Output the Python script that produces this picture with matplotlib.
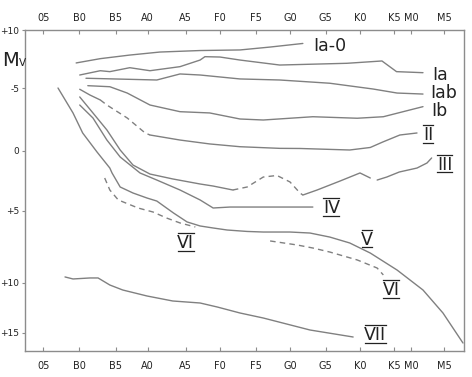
import numpy as np
import matplotlib
matplotlib.use('Agg')
import matplotlib.pyplot as plt
from matplotlib.lines import Line2D

# ---------------- data (spectral subtype number, absolute magnitude Mv) -------------
# spectral scale: O5=5, B0=10, B5=15, A0=20, A5=25, F0=30, F5=35, G0=40, G5=45,
#                 K0=50, K5=55, M0=58, M5=63
spec_ticks = [5, 10, 15, 20, 25, 30, 35, 40, 45, 50, 55, 58, 63]
spec_labels = ['05', 'B0', 'B5', 'A0', 'A5', 'F0', 'F5', 'G0', 'G5', 'K0', 'K5', 'M0', 'M5']
mv_ticks = [-10, -5, 0, 5, 10, 15]
mv_labels = ['+10', '-5', '0', '+5', '+10', '+15']

ia0_x = [9.6, 12.9, 17.2, 21.6, 27.1, 32.8, 37.1, 41.8]
ia0_y = [-7.16, -7.53, -7.84, -8.10, -8.23, -8.28, -8.53, -8.84]

ia_x = [10.1, 12.9, 14.2, 17.2, 20.3, 24.25, 27.1, 27.8, 30.0, 32.8, 38.5, 48.1, 53.2, 55.4, 59.8]
ia_y = [-6.12, -6.49, -6.41, -6.75, -6.49, -6.84, -7.41, -7.70, -7.67, -7.41, -6.98, -7.13, -7.33, -6.41, -6.32]

iab_x = [10.95, 21.2, 24.25, 27.1, 32.8, 38.5, 45.6, 51.9, 55.5, 59.8]
iab_y = [-5.84, -5.69, -6.21, -6.12, -5.78, -5.69, -5.41, -4.92, -4.60, -4.52]

ib_x = [11.2, 14.2, 16.8, 20.3, 24.25, 28.5, 32.8, 36.1, 43.2, 49.6, 53.4, 57.3, 59.8]
ib_y = [-5.2, -5.11, -4.60, -3.65, -3.12, -3.02, -2.54, -2.46, -2.72, -2.60, -2.72, -3.2, -3.52]

ii_a_x = [10.1, 11.5, 12.9]
ii_a_y = [-4.9, -4.44, -4.05]
ii_dash_x = [12.9, 13.8, 16.8, 19.6, 20.3]
ii_dash_y = [-4.05, -3.65, -2.62, -1.43, -1.27]
ii_b_x = [20.3, 24.25, 28.5, 32.8, 38.5, 41.4, 48.5, 51.5, 53.3, 56.0, 58.9]
ii_b_y = [-1.27, -0.87, -0.56, -0.34, -0.21, -0.2, -0.08, -0.28, -0.71, -1.27, -1.43]

iii_a_x = [10.1, 11.9, 13.8, 15.7, 17.7, 20.3, 23.3, 27.1, 29.0, 31.8]
iii_a_y = [-4.29, -3.02, -1.67, -0.08, 1.17, 1.92, 2.33, 2.75, 2.92, 3.25]
iii_dash_x = [31.8, 33.8, 36.1, 38.1, 40.0, 41.4, 41.8]
iii_dash_y = [3.25, 3.0, 2.17, 2.04, 2.58, 3.5, 3.67]
iii_b_x = [41.8, 43.8, 47.1, 50.0, 51.5]
iii_b_y = [3.67, 3.25, 2.5, 1.83, 2.25]
iii_c_x = [52.5, 53.9, 55.9, 58.9, 60.4, 61.1]
iii_c_y = [2.42, 2.17, 1.75, 1.42, 1.0, 0.58]

iv_x = [10.1, 11.9, 13.8, 15.7, 18.8, 21.2, 24.25, 27.1, 29.0, 31.4, 43.2]
iv_y = [-3.65, -2.62, -0.87, 0.5, 1.83, 2.42, 3.25, 4.08, 4.75, 4.67, 4.67]

v_x = [7.06, 9.16, 10.5, 12.45, 14.2, 14.5, 15.7, 17.7, 19.9, 21.2, 22.3, 23.4, 25.2, 27.1,
       29.0, 31.0, 33.8, 36.1, 40.0, 42.8, 45.6, 48.5, 51.5, 55.5, 59.8, 62.8, 65.8]
v_y = [-5.0, -3.02, -1.43, 0.08, 1.42, 1.83, 3.0, 3.5, 3.92, 4.17, 4.67, 5.14, 5.76, 6.04,
       6.18, 6.32, 6.42, 6.46, 6.46, 6.53, 6.81, 7.22, 7.92, 9.1, 10.7, 13.0, 16.0]

vi_a_x = [13.5, 14.2, 15.4, 18.5, 20.7, 22.5, 24.25, 26.4]
vi_a_y = [2.25, 3.25, 4.08, 4.75, 5.07, 5.49, 5.83, 6.11]
vi_b_x = [37.1, 41.0, 43.2, 45.6, 49.6, 52.5, 53.4]
vi_b_y = [7.08, 7.36, 7.57, 7.85, 8.4, 8.96, 9.44]

vii_x = [8.04, 9.16, 11.5, 12.6, 14.2, 16.1, 19.9, 23.3, 27.1, 29.6, 32.8, 36.1, 42.8, 49.0]
vii_y = [9.58, 9.72, 9.65, 9.65, 10.2, 10.7, 11.3, 11.8, 12.0, 12.4, 13.0, 13.5, 14.7, 15.4]

class_labels = ['Ia-0', 'Ia', 'Iab', 'Ib', 'II', 'III', 'IV', 'V', 'VI', 'VI', 'VII']
label_x = [43.2, 61.2, 60.9, 61.0, 59.8, 61.9, 44.6, 50.15, 23.86, 53.35, 50.6]
label_y = [-8.22, -5.69, -4.21, -2.78, -0.87, 1.58, 5.14, 7.36, 7.57, 11.2, 15.7]
barred = [False, False, False, False, True, True, True, True, True, True, True]

# ---------------- figure ----------------
W, H = 472, 377
fig = plt.figure(figsize=(W / 100, H / 100), dpi=100)
fig.patch.set_facecolor('white')
plt.rcParams['font.family'] = ['DejaVu Sans']

ax = fig.add_axes([25 / W, 1 - 351 / H, (464.3 - 25) / W, (351 - 30) / H])

# printed (non-uniform) scales of the original diagram
sx_knots = np.array([-100, 2.44, 5, 10, 15, 20, 25, 30, 35, 40, 45, 50, 55, 58, 63, 66, 200])
sx_pos = np.array([-692, 25, 43.3, 79, 115.7, 147.7, 185.7, 220, 255.7, 290, 325.7, 360,
                   394.3, 411, 444.3, 464.3, 1357])
sy_knots = np.array([-100, -10, -5, 0, 5, 10, 15, 16.8, 100])
sy_pos = np.array([-1014, 30, 88, 151, 211, 283, 333, 351, 1183])


def fx(v):
    return np.interp(v, sx_knots, sx_pos)


def ix(p):
    return np.interp(p, sx_pos, sx_knots)


def fy(v):
    return np.interp(v, sy_knots, sy_pos)


def iy(p):
    return np.interp(p, sy_pos, sy_knots)


ax.set_xscale('function', functions=(fx, ix))
ax.set_yscale('function', functions=(fy, iy))
ax.set_xlim(2.44, 66)
ax.set_ylim(16.8, -10)

LC = '#808080'
LW = 1.0
DASH = (0, (4, 3))

solid = [(ia0_x, ia0_y), (ia_x, ia_y), (iab_x, iab_y), (ib_x, ib_y),
         (ii_a_x, ii_a_y), (ii_b_x, ii_b_y),
         (iii_a_x, iii_a_y), (iii_b_x, iii_b_y), (iii_c_x, iii_c_y),
         (iv_x, iv_y), (v_x, v_y), (vii_x, vii_y)]
dashed = [(ii_dash_x, ii_dash_y), (iii_dash_x, iii_dash_y), (vi_a_x, vi_a_y), (vi_b_x, vi_b_y)]
for xs, ys in solid:
    ax.plot(xs, ys, color=LC, lw=LW, solid_capstyle='round')
for xs, ys in dashed:
    ax.plot(xs, ys, color=LC, lw=LW, linestyle=DASH)

# frame & ticks
for s in ax.spines.values():
    s.set_color('#8c8c8c')
    s.set_linewidth(1.0)

TC = '#222222'
ax.set_xticks(spec_ticks)
ax.set_xticklabels(spec_labels)
ax.tick_params(axis='x', direction='in', length=3, width=0.8, color='#8c8c8c',
               labelsize=7, labelcolor=TC, pad=7, top=False)
ax.set_yticks(mv_ticks)
ax.set_yticklabels(mv_labels)
ax.tick_params(axis='y', direction='out', length=2.5, width=0.8, color='#8c8c8c',
               labelsize=6.5, labelcolor=TC, pad=1.5)

ax2 = ax.twiny()
ax2.set_xscale('function', functions=(fx, ix))
ax2.set_xlim(ax.get_xlim())
ax2.set_xticks(spec_ticks)
ax2.set_xticklabels(spec_labels)
ax2.tick_params(axis='x', direction='in', length=3, width=0.8, color='#8c8c8c',
                labelsize=7, labelcolor=TC, pad=5)
for s in ax2.spines.values():
    s.set_visible(False)

# axis title M_V
fig.text(2 / W, 1 - 65.5 / H, 'M', fontsize=14, color=TC, va='baseline', ha='left')
fig.text(19 / W, 1 - 66 / H, 'V', fontsize=7.5, color=TC, va='baseline', ha='left')

# class labels
FS = 12.5
texts = []
for lab, lx, ly, b in zip(class_labels, label_x, label_y, barred):
    t = ax.text(lx, ly, lab, fontsize=FS, color=TC, ha='left', va='baseline')
    texts.append((t, lx, ly, b))

fig.canvas.draw()
r = fig.canvas.get_renderer()
fs_px = FS * 100 / 72
cap = 0.73 * fs_px
for t, lx, ly, b in texts:
    if not b:
        continue
    bb = t.get_window_extent(r)
    _, by = ax.transData.transform((lx, ly))
    x0, x1 = bb.x0 + 0.5, bb.x1 - 0.5
    for yy in (by - 2.5, by + cap + 2.5):
        fig.add_artist(Line2D([x0 / W, x1 / W], [yy / H, yy / H], transform=fig.transFigure,
                              color=TC, lw=0.9))

fig.savefig('out.png', dpi=100)
